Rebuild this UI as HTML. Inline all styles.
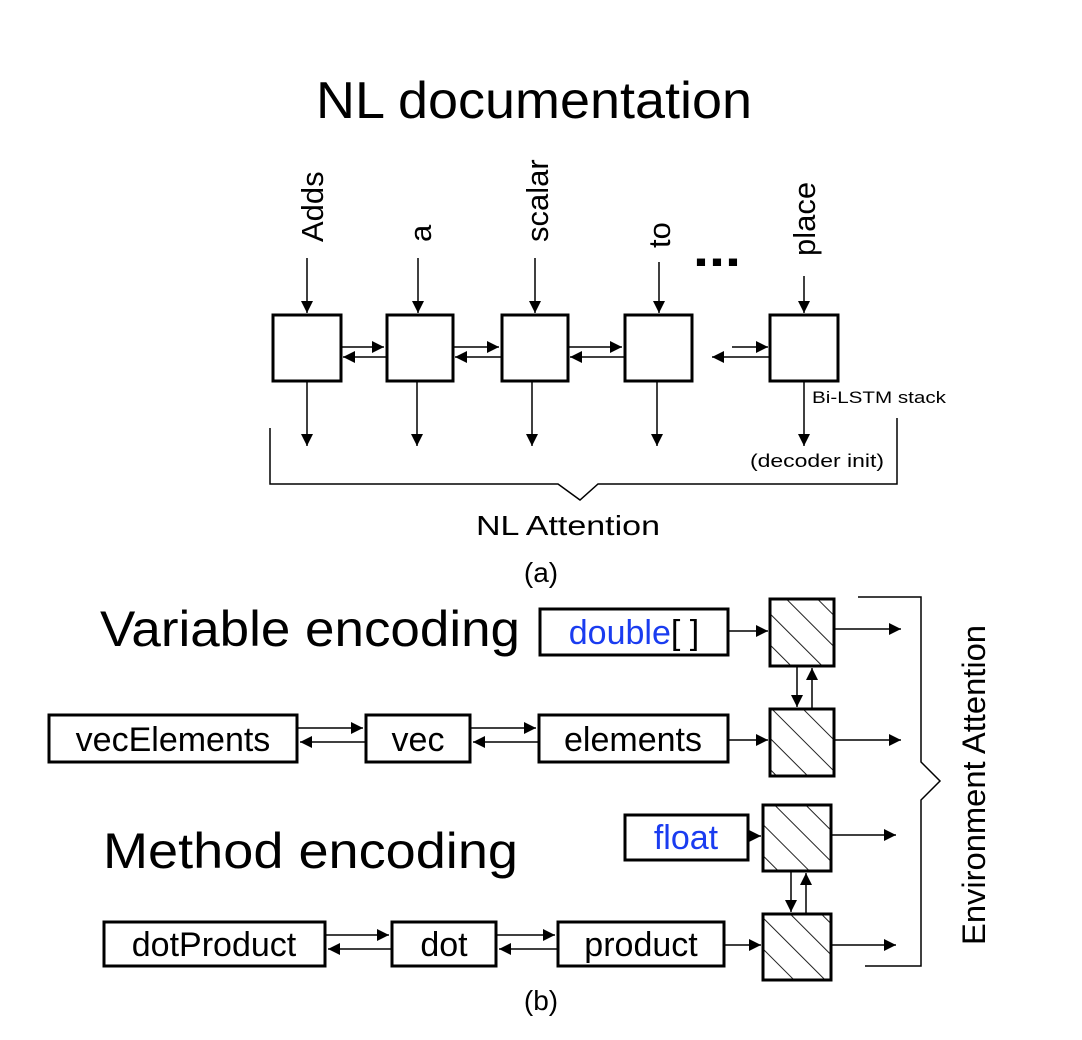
<!DOCTYPE html>
<html><head><meta charset="utf-8"><style>
html,body{margin:0;padding:0;background:#fff;}
svg{display:block;font-family:"Liberation Sans",Arial,sans-serif;}
</style></head><body>
<svg width="1082" height="1040" viewBox="0 0 1082 1040" xmlns="http://www.w3.org/2000/svg">
<defs>
<marker id="b" viewBox="0 0 10 10" refX="10" refY="5" markerWidth="14" markerHeight="12" markerUnits="userSpaceOnUse" orient="auto"><path d="M0,0 L10,5 L0,10 z" fill="#000"/></marker>
<pattern id="h" patternUnits="userSpaceOnUse" width="22" height="22" patternTransform="rotate(-45)">
<line x1="0" y1="0" x2="0" y2="22" stroke="#222" stroke-width="2"/>
</pattern>
</defs>
<rect width="1082" height="1040" fill="#fff"/>
<text x="534" y="118" font-size="52" text-anchor="middle" textLength="436" lengthAdjust="spacingAndGlyphs">NL documentation</text>
<g font-size="31">
<text transform="translate(323,242) rotate(-90)">Adds</text>
<text transform="translate(431,242) rotate(-90)">a</text>
<text transform="translate(548,242) rotate(-90)">scalar</text>
<text transform="translate(670,248) rotate(-90)">to</text>
<text transform="translate(815,256) rotate(-90)">place</text>
</g>
<text x="693" y="266" font-size="50" font-weight="bold" textLength="48" lengthAdjust="spacingAndGlyphs">...</text>
<g stroke="#000" stroke-width="1.5" fill="none">
<line x1="307" y1="258" x2="307" y2="313" marker-end="url(#b)"/>
<line x1="418" y1="258" x2="418" y2="313" marker-end="url(#b)"/>
<line x1="535" y1="258" x2="535" y2="313" marker-end="url(#b)"/>
<line x1="659" y1="262" x2="659" y2="313" marker-end="url(#b)"/>
<line x1="804" y1="276" x2="804" y2="313" marker-end="url(#b)"/>
<line x1="307" y1="381" x2="307" y2="446" marker-end="url(#b)"/>
<line x1="417" y1="381" x2="417" y2="446" marker-end="url(#b)"/>
<line x1="532" y1="381" x2="532" y2="446" marker-end="url(#b)"/>
<line x1="657" y1="381" x2="657" y2="446" marker-end="url(#b)"/>
<line x1="804" y1="381" x2="804" y2="446" marker-end="url(#b)"/>
<line x1="341" y1="347" x2="384" y2="347" marker-end="url(#b)"/>
<line x1="387" y1="357" x2="343" y2="357" marker-end="url(#b)"/>
<line x1="453" y1="347" x2="499" y2="347" marker-end="url(#b)"/>
<line x1="502" y1="357" x2="455" y2="357" marker-end="url(#b)"/>
<line x1="568" y1="347" x2="622" y2="347" marker-end="url(#b)"/>
<line x1="628" y1="357" x2="570" y2="357" marker-end="url(#b)"/>
<line x1="732" y1="347" x2="768" y2="347" marker-end="url(#b)"/>
<line x1="770" y1="357" x2="712" y2="357" marker-end="url(#b)"/>
<path d="M270,428 V484 H558 L580,500 L598,484 H897 V418"/>
</g>
<g stroke="#000" stroke-width="3" fill="#fff">
<rect x="273" y="315" width="68" height="66"/>
<rect x="387" y="315" width="66" height="66"/>
<rect x="502" y="315" width="66" height="66"/>
<rect x="625" y="315" width="67" height="66"/>
<rect x="770" y="315" width="68" height="66"/>
</g>
<text x="812" y="403" font-size="17" textLength="134" lengthAdjust="spacingAndGlyphs">Bi-LSTM stack</text>
<text x="750" y="467" font-size="18" textLength="134" lengthAdjust="spacingAndGlyphs">(decoder init)</text>
<text x="476" y="535" font-size="28" textLength="184" lengthAdjust="spacingAndGlyphs">NL Attention</text>
<text x="541" y="582" font-size="28" text-anchor="middle">(a)</text>

<text x="100" y="646" font-size="50" textLength="420" lengthAdjust="spacingAndGlyphs">Variable encoding</text>
<text x="103" y="868" font-size="50" textLength="415" lengthAdjust="spacingAndGlyphs">Method encoding</text>
<g stroke="#000" stroke-width="3" fill="#fff">
<rect x="540" y="609" width="188" height="46"/>
<rect x="49" y="715" width="248" height="47"/>
<rect x="366" y="715" width="104" height="47"/>
<rect x="539" y="715" width="189" height="47"/>
<rect x="625" y="815" width="123" height="45"/>
<rect x="104" y="922" width="221" height="44"/>
<rect x="392" y="922" width="104" height="44"/>
<rect x="558" y="922" width="166" height="44"/>
</g>
<g stroke="#000" stroke-width="3" fill="url(#h)">
<rect x="770" y="599" width="64" height="67"/>
<rect x="770" y="709" width="64" height="67"/>
<rect x="763" y="805" width="68" height="66"/>
<rect x="763" y="914" width="68" height="66"/>
</g>
<g font-size="34" text-anchor="middle">
<text x="634" y="644"><tspan fill="#1a3cf0">double</tspan>[ ]</text>
<text x="173" y="751">vecElements</text>
<text x="418" y="751">vec</text>
<text x="633" y="751">elements</text>
<text x="686" y="849" fill="#1a3cf0">float</text>
<text x="214" y="956">dotProduct</text>
<text x="444" y="956">dot</text>
<text x="641" y="956">product</text>
</g>
<g stroke="#000" stroke-width="1.5" fill="none">
<line x1="728" y1="631" x2="768" y2="631" marker-end="url(#b)"/>
<line x1="728" y1="740" x2="768" y2="740" marker-end="url(#b)"/>
<line x1="748" y1="836" x2="761" y2="836" marker-end="url(#b)"/>
<line x1="724" y1="945" x2="761" y2="945" marker-end="url(#b)"/>
<line x1="297" y1="728" x2="363" y2="728" marker-end="url(#b)"/>
<line x1="366" y1="742" x2="300" y2="742" marker-end="url(#b)"/>
<line x1="470" y1="728" x2="536" y2="728" marker-end="url(#b)"/>
<line x1="539" y1="742" x2="473" y2="742" marker-end="url(#b)"/>
<line x1="325" y1="935" x2="389" y2="935" marker-end="url(#b)"/>
<line x1="392" y1="949" x2="328" y2="949" marker-end="url(#b)"/>
<line x1="496" y1="935" x2="555" y2="935" marker-end="url(#b)"/>
<line x1="558" y1="949" x2="499" y2="949" marker-end="url(#b)"/>
<line x1="834" y1="629" x2="901" y2="629" marker-end="url(#b)"/>
<line x1="834" y1="740" x2="901" y2="740" marker-end="url(#b)"/>
<line x1="831" y1="835" x2="896" y2="835" marker-end="url(#b)"/>
<line x1="831" y1="945" x2="896" y2="945" marker-end="url(#b)"/>
<line x1="797" y1="666" x2="797" y2="707" marker-end="url(#b)"/>
<line x1="812" y1="709" x2="812" y2="668" marker-end="url(#b)"/>
<line x1="791" y1="871" x2="791" y2="912" marker-end="url(#b)"/>
<line x1="806" y1="914" x2="806" y2="873" marker-end="url(#b)"/>
<path d="M858,597 H921 V762 L940,781 L921,800 V966 H865"/>
</g>
<text transform="translate(985,785) rotate(-90)" font-size="32" text-anchor="middle" textLength="320" lengthAdjust="spacingAndGlyphs">Environment Attention</text>
<text x="541" y="1010" font-size="28" text-anchor="middle">(b)</text>
</svg>
</body></html>
